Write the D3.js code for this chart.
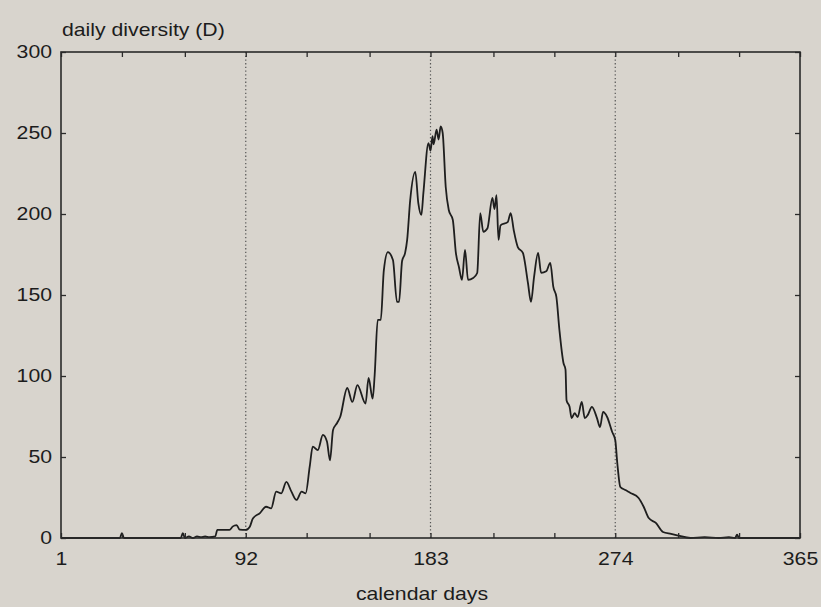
<!DOCTYPE html>
<html>
<head>
<meta charset="utf-8">
<script src="https://cdn.jsdelivr.net/npm/d3@7"></script>
<style>
  html, body { margin: 0; padding: 0; background: #d8d4cd; }
  svg { display: block; }
  text { font-family: "Liberation Sans", Arial, sans-serif; fill: #1c1c1c; }
</style>
</head>
<body>
<div id="chart"></div>
<script>
// daily diversity readings, [calendar day, D]
const days = [1, 30, 31, 32, 60, 61, 62, 64, 66, 68, 70, 72, 74, 77, 78, 84, 85.5, 87.5, 89, 92, 94, 95.5, 99, 102, 104.5, 107, 109.5, 112, 114.5, 117, 119.5, 121.5, 123.5, 125, 127.5, 130, 132, 133.5, 135, 137, 138.5, 142, 144.5, 147, 151, 152.5, 154.5, 155.5, 157, 158.5, 160, 162, 164.5, 166.5, 167.5, 169, 170.5, 171.5, 173, 175.5, 177, 178.5, 179.5, 182, 183, 184, 184.5, 186, 187, 188, 189, 190.5, 192, 194, 195.5, 197, 198.5, 200, 201.5, 204, 206, 207.5, 209, 211, 213.5, 214.5, 215.5, 216.5, 217.5, 221, 222.5, 224, 226, 228.5, 231, 232.5, 234, 236, 237.5, 240, 242, 243.5, 245, 246.5, 248.5, 249.5, 250, 251.5, 252.5, 254, 255.5, 257.5, 259, 260.5, 262.5, 265, 266.5, 268, 270, 272.5, 274, 275, 276.5, 279, 281.5, 285.5, 288, 290.5, 294, 297.5, 301.5, 305, 311, 318, 325, 330, 333, 334, 335, 365];
const diversity = [0, 0, 3, 0, 0, 3, 0, 1, 0, 1, 0.5, 1, 0.5, 1, 5, 5, 7, 8, 5.2, 5, 7, 12, 15.4, 19.3, 18.3, 28.6, 27.6, 34.6, 28.6, 23.5, 28.6, 27.6, 44, 56.4, 54.3, 63.6, 59.5, 48, 66.7, 71, 74.7, 92.6, 84, 94.4, 83, 98.8, 86, 100.6, 134.6, 134.6, 165, 176.5, 171.6, 145.7, 145.7, 171, 176, 184, 208.6, 226, 206.7, 199.4, 213, 243.8, 239, 248, 243, 252, 246, 254, 250, 216.7, 202.5, 196.3, 176, 167.3, 159.3, 177.8, 159.3, 160.5, 163.6, 200.6, 189, 191, 210, 203, 211.7, 184, 193, 195, 200.6, 190, 179.6, 176, 157.4, 145.7, 161, 176, 163.6, 164.6, 169.8, 155, 148.8, 128.4, 108, 104, 85, 81, 74, 77, 74.7, 84, 74, 76, 81, 74, 68.5, 77.8, 74.7, 65.4, 60.5, 46.3, 31.5, 29.6, 27.8, 24.7, 19.3, 12.3, 9.3, 3.7, 2.5, 1.5, 0, 0.5, 0, 0.5, 0, 2, 0, 0];

const monthTicks = [1, 31, 62, 92, 122, 153, 183, 214, 244, 274, 305, 335, 365];
const labelledDays = [1, 92, 183, 274, 365];
const quarterLines = [92, 183, 274];
const yTicks = [0, 50, 100, 150, 200, 250, 300];

const W = 821, H = 607;
const margin = { top: 52, right: 21, bottom: 69, left: 61 };
const width = W - margin.left - margin.right,
  height = H - margin.top - margin.bottom;
const sx = 1.18; // horizontal stretch of the lettering

const svg = d3.select("#chart").append("svg")
  .attr("width", W).attr("height", H);

const g = svg.append("g")
  .attr("transform", `translate(${margin.left}, ${margin.top})`);

const x = d3.scaleLinear().domain([1, 365]).range([0, width]);
const y = d3.scaleLinear().domain([0, 300]).range([height, 0]);

// dotted quarter lines
g.selectAll(".quarter")
  .data(quarterLines)
  .join("line")
  .attr("class", "quarter")
  .attr("x1", (d) => x(d)).attr("x2", (d) => x(d))
  .attr("y1", 0).attr("y2", height)
  .attr("stroke", "#555")
  .attr("stroke-width", 1.2)
  .attr("stroke-dasharray", "1.3,2.4");

// the curve
const line = d3.line()
  .x((d, i) => x(days[i]))
  .y((d) => y(d))
  .curve(d3.curveMonotoneX);

g.append("path")
  .datum(diversity)
  .attr("d", line)
  .attr("fill", "none")
  .attr("stroke", "#1e1e1e")
  .attr("stroke-width", 1.8)
  .attr("stroke-linejoin", "round");

// axes, ticks pointing inward
const fmt = (d) => (labelledDays.includes(d) ? d : "");

const bottom = g.append("g")
  .attr("transform", `translate(0, ${height})`)
  .call(d3.axisBottom(x).tickValues(monthTicks).tickSize(-5).tickPadding(14).tickFormat(fmt));
g.append("g")
  .call(d3.axisTop(x).tickValues(monthTicks).tickSize(-5).tickFormat(""));
const left = g.append("g")
  .call(d3.axisLeft(y).tickValues(yTicks).tickSize(-5).tickPadding(9));
g.append("g")
  .attr("transform", `translate(${width}, 0)`)
  .call(d3.axisRight(y).tickValues(yTicks).tickSize(-5).tickFormat(""));

g.selectAll(".domain").remove();
g.selectAll(".tick line").attr("stroke", "#2a2a2a").attr("stroke-width", 1.3);

bottom.selectAll("text")
  .attr("font-size", 18)
  .attr("font-family", "Liberation Sans, Arial, sans-serif")
  .attr("fill", "#1c1c1c")
  .attr("transform", `scale(${sx},1)`);
left.selectAll("text")
  .attr("font-size", 18)
  .attr("font-family", "Liberation Sans, Arial, sans-serif")
  .attr("fill", "#1c1c1c")
  .attr("x", -9 / sx)
  .attr("dy", "0.33em")
  .attr("transform", `scale(${sx},1)`);

// frame
g.append("rect")
  .attr("width", width).attr("height", height)
  .attr("fill", "none")
  .attr("stroke", "#2a2a2a")
  .attr("stroke-width", 1.6);

// titles
svg.append("text")
  .attr("transform", `translate(62, 36) scale(${sx},1)`)
  .attr("font-size", 18)
  .text("daily diversity (D)");

svg.append("text")
  .attr("transform", `translate(422, 600) scale(${sx},1)`)
  .attr("text-anchor", "middle")
  .attr("font-size", 18)
  .text("calendar days");
</script>
</body>
</html>
